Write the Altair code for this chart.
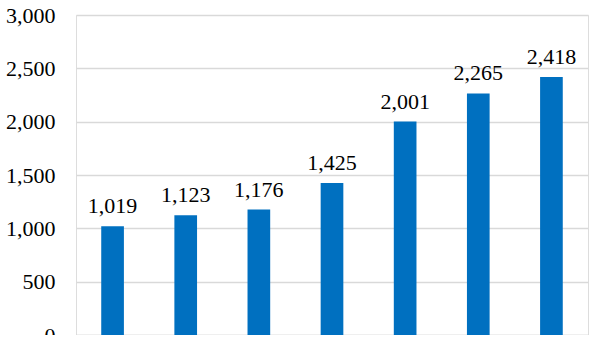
import altair as alt
import pandas as pd

categories = ["1", "2", "3", "4", "5", "6", "7"]
values = [1019, 1123, 1176, 1425, 2001, 2265, 2418]
labels = [f"{v:,}" for v in values]

df = pd.DataFrame({"cat": categories, "value": values, "label": labels})

FONT = "Times New Roman, Liberation Serif, serif"

x = alt.X("cat:N", sort=categories, title=None,
          scale=alt.Scale(paddingInner=0.69, paddingOuter=0.345),
          axis=alt.Axis(labels=False, ticks=False, domain=True, domainColor="#d9d9d9", domainWidth=1.5))
y = alt.Y("value:Q", title=None,
          scale=alt.Scale(domain=[0, 3000], nice=False),
          axis=alt.Axis(values=[0, 500, 1000, 1500, 2000, 2500, 3000], format=",.0f",
                        ticks=False, domain=False, labelPadding=21,
                        labelFont=FONT, labelFontSize=22, labelColor="#000000",
                        gridColor="#d9d9d9", gridWidth=1.5))

bars = alt.Chart(df).mark_bar(color="#0070C0").encode(x=x, y=y)
text = alt.Chart(df).mark_text(font=FONT, fontSize=22, color="#000000",
                               baseline="alphabetic", dy=-13).encode(
    x=alt.X("cat:N", sort=categories), y="value:Q", text="label:N")

chart = (bars + text).properties(
    width=512, height=320,
    autosize=alt.AutoSizeParams(type="none"),
    padding={"left": 76, "top": 15, "right": 12, "bottom": 0},
).configure_view(stroke=None).configure(background="white")

chart.save("out.html", embed_options={"renderer": "svg", "actions": False})
